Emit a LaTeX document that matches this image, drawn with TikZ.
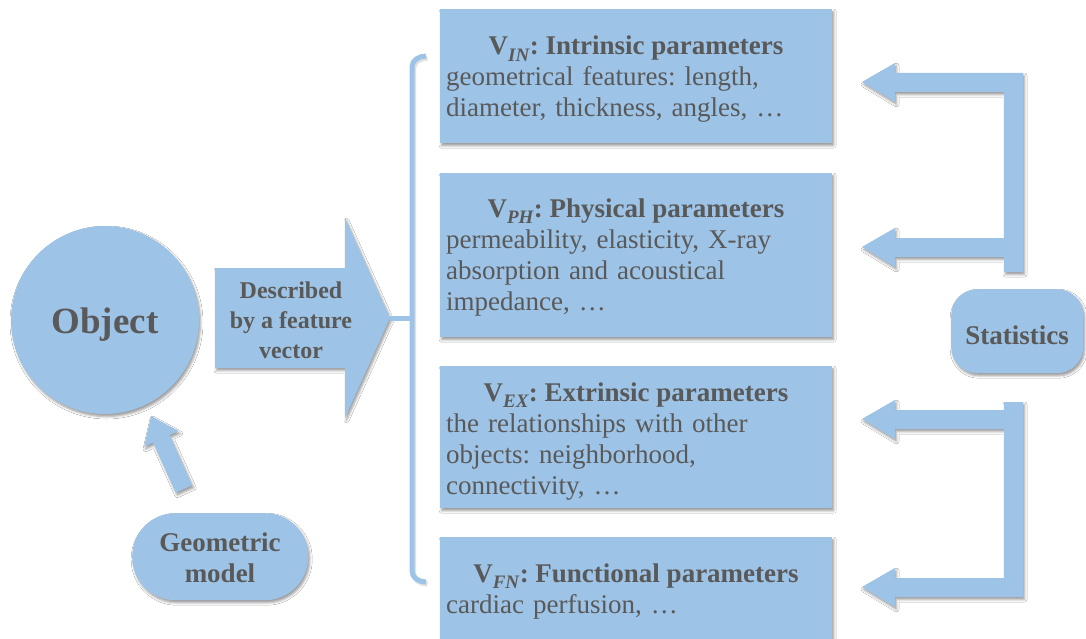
\documentclass[tikz,border=0pt]{standalone}
\usepackage{fontspec}
\setmainfont{Liberation Serif}
\usetikzlibrary{shadows.blur}
\definecolor{boxblue}{HTML}{9DC3E6}
\definecolor{inkgray}{HTML}{595959}
\frenchspacing
% italic subscript used in the parameter titles
\newcommand{\vsub}[1]{\raisebox{-0.25em}{\fontsize{19}{19}\selectfont\textit{#1}}}
\begin{document}
\begin{tikzpicture}[x=1pt,y=-1pt,
  shade/.style={blur shadow={shadow xshift=1.5pt,shadow yshift=-2.5pt,shadow blur radius=2.5pt,shadow opacity=40}},
  blueshape/.style={fill=boxblue,draw=none,shade},
  box/.style={blueshape,rectangle,inner sep=0pt,anchor=north west,minimum width=392},
  lbl/.style={text=inkgray,inner sep=0pt},
  title/.style={lbl,anchor=base,font=\fontsize{27}{31}\selectfont\bfseries},
  body/.style={lbl,anchor=base west,text width=382,align=left,font=\fontsize{27}{31}\selectfont},
  tag/.style={lbl,align=center,font=\fontsize{27}{31}\selectfont\bfseries},
  bracestyle/.style={draw=boxblue,line width=5pt},
  braceshade/.style={draw=black,opacity=0.12,line width=5pt}
]
\fill[white] (0,0) rectangle (1086,639);
\useasboundingbox (0,0) rectangle (1086,639);

% the object
\node[blueshape,circle,minimum size=188,inner sep=0pt] (obj) at (105,320) {};
\node[lbl,anchor=base,font=\fontsize{37}{37}\selectfont\bfseries] (objtxt) at (105,333) {Object};

% block arrow carrying the description
\fill[blueshape] (215,268) -- (345,268) -- (345,218) -- (390,318) -- (345,418) -- (345,368) -- (215,368) -- cycle;
\node[lbl,align=center,font=\fontsize{24}{30}\selectfont\bfseries] (desc) at (291,320) {Described\\by a feature\\vector};
\coordinate (tip) at (390,318);
\coordinate (bmid) at (412,318);

% brace grouping the four parameter sets
\begin{scope}[shift={(1.5,2)}]
\draw[braceshade] (426,56) to[out=180,in=90] (412,67) -- (412,571) to[out=-90,in=180] (426,582);
\end{scope}
\draw[bracestyle] (426,56) to[out=180,in=90] (412,67) -- (412,571) to[out=-90,in=180] (426,582);
\draw[bracestyle] (tip) -- (bmid);

% geometric model and its arrow
\node[blueshape,rectangle,rounded corners=43,minimum width=176,minimum height=87,inner sep=0pt,anchor=north west] (geo) at (132,513) {};
\node[tag] (geotxt) at (220,558) {Geometric\\model};
\begin{scope}[shift={(184,489)},rotate=114.3]
\fill[blueshape] (0,-9) -- (55,-9) -- (55,-19) -- (80,0) -- (55,19) -- (55,9) -- (0,9) -- cycle;
\end{scope}

% parameter boxes
\node[box,minimum height=134] (vin) at (440,9) {};
\node[title] (vint) at (636,55) {V\vsub{IN}: Intrinsic parameters};
\node[body] (vinb) at (446,86) {geometrical features: length,\\diameter, thickness, angles, …};

\node[box,minimum height=164] (vph) at (440,173) {};
\node[title] (vpht) at (636,217) {V\vsub{PH}: Physical parameters};
\node[body] (vphb) at (446,248) {permeability, elasticity, X-ray\\absorption and acoustical\\impedance, …};

\node[box,minimum height=142] (vex) at (440,366) {};
\node[title] (vext) at (636,401) {V\vsub{EX}: Extrinsic parameters};
\node[body] (vexb) at (446,432) {the relationships with other\\objects: neighborhood,\\connectivity, …};

\node[box,minimum height=106] (vfn) at (440,537) {};
\node[title] (vfnt) at (636,582) {V\vsub{FN}: Functional parameters};
\node[body] (vfnb) at (446,613) {cardiac perfusion, …};

% statistics feeding back into the parameter sets
\node[blueshape,rectangle,rounded corners=26,minimum width=132,minimum height=84,inner sep=0pt,anchor=north west] (stat) at (951,289) {};
\node[lbl,anchor=base,font=\fontsize{27}{31}\selectfont\bfseries] (stattxt) at (1017,344) {Statistics};

\fill[blueshape] (862,82) -- (895,63) -- (895,73) -- (1023,73) -- (1023,272) -- (1004,272) -- (1004,257)
  -- (895,257) -- (895,267) -- (862,247) -- (895,228) -- (895,238) -- (1004,238) -- (1004,92)
  -- (895,92) -- (895,102) -- cycle;
\fill[blueshape] (862,419) -- (895,400) -- (895,410) -- (1004,410) -- (1004,402) -- (1023,402) -- (1023,597)
  -- (895,597) -- (895,607) -- (862,587) -- (895,568) -- (895,578) -- (1004,578) -- (1004,429)
  -- (895,429) -- (895,439) -- cycle;
\end{tikzpicture}
\end{document}
